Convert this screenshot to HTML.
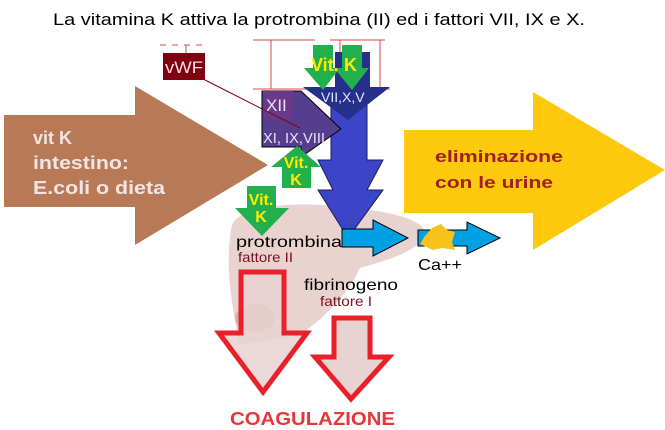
<!DOCTYPE html>
<html><head><meta charset="utf-8"><style>
html,body{margin:0;padding:0;background:#fff;}
svg{display:block;font-family:"Liberation Sans",sans-serif;}
</style></head><body>
<svg width="665" height="430" viewBox="0 0 665 430" xmlns="http://www.w3.org/2000/svg">
<rect width="665" height="430" fill="#fff"/>
<text x="53" y="25" font-size="17" fill="#000" textLength="532" lengthAdjust="spacingAndGlyphs">La vitamina K attiva la protrombina  (II) ed i fattori VII, IX e X.</text>
<!-- brown arrow -->
<polygon points="4,115 135,115 135,86 268,165 135,245 135,207 4,207" fill="#b87a56"/>
<g font-weight="bold" font-size="18" fill="#f3e4e4">
<text x="33" y="144">vit K</text><text x="33" y="169" textLength="96" lengthAdjust="spacingAndGlyphs">intestino:</text><text x="33" y="194" textLength="132" lengthAdjust="spacingAndGlyphs">E.coli o dieta</text></g>
<!-- yellow arrow -->
<polygon points="404,130 533,130 533,92 665,170 533,250 533,213 404,213" fill="#fec90d"/>
<g font-weight="bold" font-size="17" fill="#a0201c">
<text x="435" y="162" textLength="128" lengthAdjust="spacingAndGlyphs">eliminazione</text><text x="435" y="188" textLength="118" lengthAdjust="spacingAndGlyphs">con le urine</text></g>
<!-- liver -->
<path d="M232,225 C240,205 300,200 350,208 C400,212 430,222 425,238 C410,255 380,262 360,268 C345,300 320,320 300,335 L240,345 C230,300 225,260 232,225 Z" fill="#e9d3d1"/>
<ellipse cx="255" cy="318" rx="20" ry="14" fill="#d8b0a8"/>
<!-- top lines -->
<g stroke="#d94848" stroke-width="1" fill="none">
<line x1="253" y1="40" x2="315" y2="40"/><line x1="330" y1="40" x2="385" y2="40"/>
<line x1="253" y1="89" x2="390" y2="89"/>
<line x1="271" y1="40" x2="271" y2="89"/><line x1="340" y1="40" x2="340" y2="89"/><line x1="380" y1="40" x2="380" y2="89"/>
<line x1="160" y1="45" x2="205" y2="45" stroke-dasharray="6,6"/><line x1="186" y1="45" x2="186" y2="80"/>
</g>
<!-- big blue arrow -->
<polygon points="331,90 367,90 367,160 383,160 367,190 383,190 348,238 318,190 333,190 318,160 331,160" fill="#3c45c8" stroke="#1a1a60" stroke-width="1"/>
<!-- navy VII,X,V -->
<polygon points="335,52 370,52 370,87 390,87 348,120 303,87 335,87" fill="#25308a"/>
<text x="321" y="102" font-size="14" fill="#e0e8ff">VII,X,V</text>
<!-- purple -->
<polygon points="262,91 301,91 301,91 341,129 301,157 301,147 262,147" fill="#553e8e" stroke="#000" stroke-width="1"/>
<rect x="263" y="91" width="30" height="28" fill="#6a3a8a"/>
<text x="266" y="111" font-size="17" fill="#e8e0ff">XII</text>
<text x="263" y="143" font-size="15" fill="#e8e0ff" textLength="62" lengthAdjust="spacingAndGlyphs">XI, IX,VIII</text>
<!-- vWF -->
<rect x="163" y="53" width="42" height="27" fill="#7f0010"/>
<text x="165" y="73" font-size="17" fill="#f4e0e0" textLength="38" lengthAdjust="spacingAndGlyphs">vWF</text>
<line x1="205" y1="80" x2="300" y2="128" stroke="#7f0010" stroke-width="1"/>
<!-- green arrows -->
<polygon points="313,45 333,45 333,68 340,68 323,90 304,68 313,68" fill="#22b04c"/>
<polygon points="342,45 362,45 362,68 369,68 352,90 334,68 342,68" fill="#22b04c"/>
<g font-weight="bold" font-size="18" fill="#ffec00"><text x="311" y="71">Vit.</text><text x="344" y="71">K</text></g>
<polygon points="297,146 321,167 311,167 311,188 282,188 282,167 271,167" fill="#22b04c"/>
<g font-weight="bold" font-size="16" fill="#ffec00" text-anchor="middle"><text x="296" y="168">Vit.</text><text x="296" y="185">K</text></g>
<polygon points="247,186 276,186 276,208 289,208 262,236 235,208 247,208" fill="#22b04c"/>
<g font-weight="bold" font-size="16" fill="#ffec00" text-anchor="middle"><text x="261" y="205">Vit.</text><text x="261" y="222">K</text></g>
<!-- light blue arrows -->
<polygon points="342,229 373,229 373,220 408,238 373,256 373,247 342,247" fill="#00a0e4" stroke="#000" stroke-width="1"/>
<polygon points="418,230 467,230 467,222 500,238 467,254 467,246 418,246" fill="#00a0e4" stroke="#000" stroke-width="1"/>
<polygon points="432,228 441,224 447,230 455,232 452,242 455,250 442,248 433,250 420,244 425,236" fill="#f6c21b"/>
<text x="236" y="247" font-size="16" fill="#000" textLength="106" lengthAdjust="spacingAndGlyphs">protrombina</text>
<text x="238" y="262" font-size="14" fill="#7a1020" textLength="55" lengthAdjust="spacingAndGlyphs">fattore II</text>
<text x="418" y="270" font-size="16" fill="#000" textLength="44" lengthAdjust="spacingAndGlyphs">Ca++</text>
<text x="304" y="290" font-size="16" fill="#000" textLength="94" lengthAdjust="spacingAndGlyphs">fibrinogeno</text>
<text x="320" y="306" font-size="14" fill="#7a1020" textLength="52" lengthAdjust="spacingAndGlyphs">fattore I</text>
<!-- red arrows -->
<polygon points="241,272 284,272 284,333 307,333 263,392 219,333 241,333" fill="#e8d2d2" fill-opacity="0.85" stroke="#e8202a" stroke-width="5" stroke-linejoin="miter"/>
<polygon points="334,318 370,318 370,357 389,357 351,399 315,357 334,357" fill="#e8d2d2" stroke="#e8202a" stroke-width="5"/>
<text x="230" y="425" font-size="18" font-weight="bold" fill="#e8353a" textLength="165" lengthAdjust="spacingAndGlyphs">COAGULAZIONE</text>
</svg>
</body></html>
